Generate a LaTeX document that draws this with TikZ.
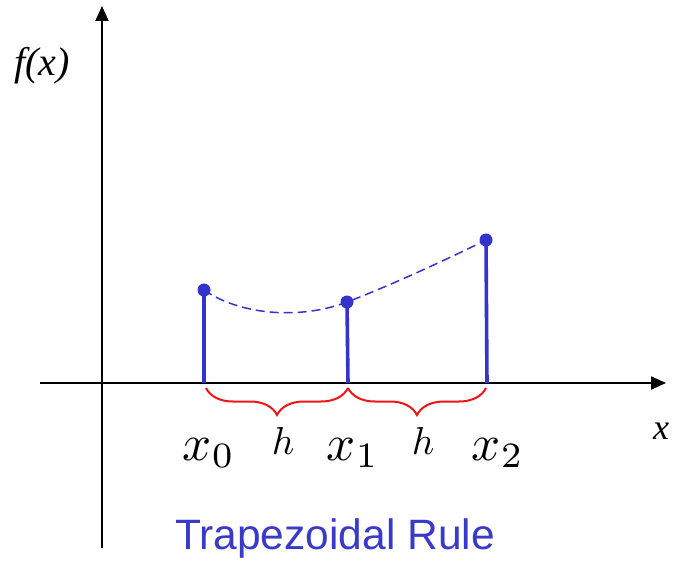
\documentclass[tikz,border=0pt]{standalone}
\usepackage{graphicx}
\usepackage{fontspec}
\setmainfont{Liberation Serif}
\newfontfamily\arialfont{Liberation Sans}
\usetikzlibrary{arrows.meta,decorations.pathreplacing}
\definecolor{ptblue}{RGB}{52,52,204}
\definecolor{titleblue}{RGB}{58,58,200}
\definecolor{bracered}{RGB}{240,20,20}
\newcommand{\bigmath}[1]{\scalebox{5.1}{$#1$}}
\newcommand{\midmath}[1]{\scalebox{3.9}{$#1$}}
\tikzset{
  axisline/.style={line width=2pt,-{Triangle[length=15pt,width=13pt]}},
  ordinate/.style={ptblue,line width=3.6pt},
  dot/.style={circle,fill=ptblue,inner sep=0pt,minimum size=13pt},
  curve/.style={ptblue,dashed,line width=1.5pt,dash pattern=on 9pt off 5pt},
  hbrace/.style={bracered,line width=2pt,decorate,decoration={brace,mirror,amplitude=27pt}},
  axislabel/.style={font=\fontsize{36}{40}\selectfont\itshape}
}
\begin{document}
\begin{tikzpicture}[x=1pt,y=-1pt]
\useasboundingbox (0,0) rectangle (675,561);
% axes
\coordinate (yb) at (102,548);
\coordinate (yt) at (102,6);
\coordinate (xl) at (40,383);
\coordinate (xr) at (666,383);
\draw[axisline] (xl) -- (xr);
\draw[axisline] (yb) -- (yt);
% points
\coordinate (b0) at (204,383);
\coordinate (b1) at (348,383);
\coordinate (b2) at (487,383);
\coordinate (p0) at (204,290);
\coordinate (p1) at (347,302);
\coordinate (p2) at (486,240);
\draw[ordinate] (b0) -- (p0);
\draw[ordinate] (b1) -- (p1);
\draw[ordinate] (b2) -- (p2);
\draw[curve] (p0) .. controls (240,315) and (300,320) .. (p1)
             .. controls (387,287) and (450,258) .. (p2);
\node[dot] (d0) at (p0) {};
\node[dot] (d1) at (p1) {};
\node[dot] (d2) at (p2) {};
% braces
\coordinate (r0) at (206,388);
\coordinate (r1) at (348,388);
\coordinate (r2) at (486,388);
\draw[hbrace] (r0) -- (r1);
\draw[hbrace] (r1) -- (r2);
% labels
\node (x0) at (209,453) {\bigmath{x_0}};
\node (x1) at (353,453) {\bigmath{x_1}};
\node (x2) at (498,453) {\bigmath{x_2}};
\node (h0) at (283,441) {\midmath{h}};
\node (h1) at (423,441) {\midmath{h}};
\node[axislabel] (xlab) at (661,431) {x};
\node[axislabel,font=\fontsize{40}{44}\selectfont\itshape] (flab) at (42,66) {f(x)};
\node[font=\arialfont\fontsize{42.5}{48}\selectfont,text=titleblue] (title) at (335,539) {Trapezoidal Rule};
\end{tikzpicture}
\end{document}
